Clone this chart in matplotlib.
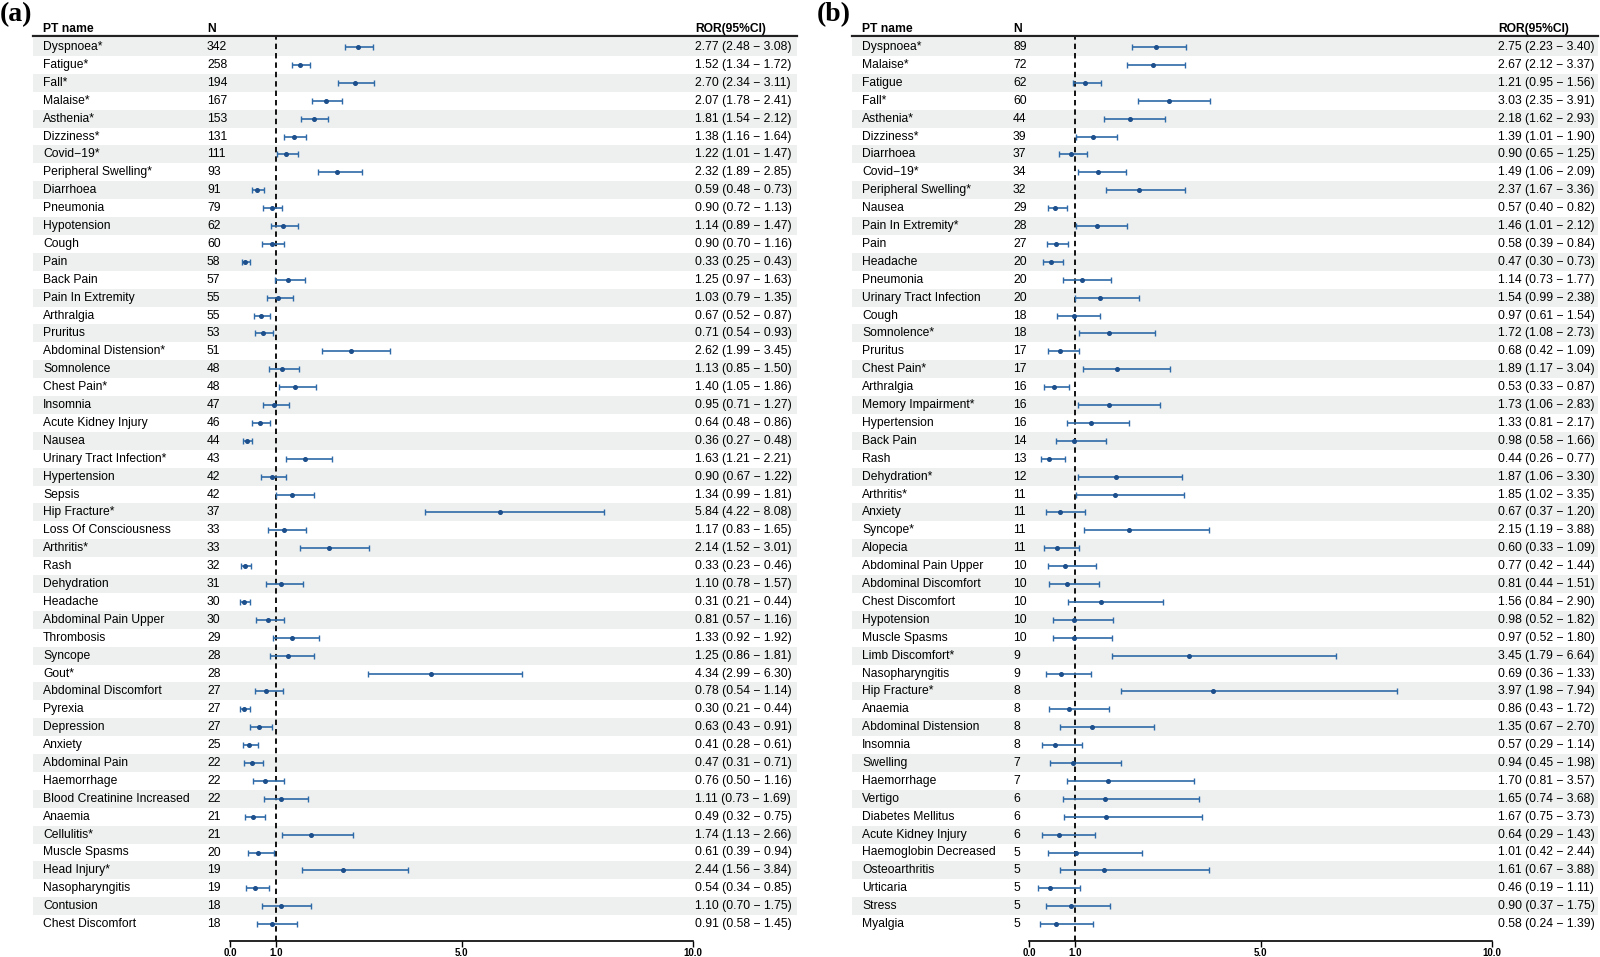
import matplotlib
matplotlib.use("Agg")
import matplotlib.pyplot as plt
import numpy as np

# ---------------- data ----------------
names_a = ["Dyspnoea*", "Fatigue*", "Fall*", "Malaise*", "Asthenia*", "Dizziness*", "Covid\u221219*",
           "Peripheral Swelling*", "Diarrhoea", "Pneumonia", "Hypotension", "Cough", "Pain", "Back Pain",
           "Pain In Extremity", "Arthralgia", "Pruritus", "Abdominal Distension*", "Somnolence", "Chest Pain*",
           "Insomnia", "Acute Kidney Injury", "Nausea", "Urinary Tract Infection*", "Hypertension", "Sepsis",
           "Hip Fracture*", "Loss Of Consciousness", "Arthritis*", "Rash", "Dehydration", "Headache",
           "Abdominal Pain Upper", "Thrombosis", "Syncope", "Gout*", "Abdominal Discomfort", "Pyrexia",
           "Depression", "Anxiety", "Abdominal Pain", "Haemorrhage", "Blood Creatinine Increased", "Anaemia",
           "Cellulitis*", "Muscle Spasms", "Head Injury*", "Nasopharyngitis", "Contusion", "Chest Discomfort"]
n_a = [342, 258, 194, 167, 153, 131, 111, 93, 91, 79, 62, 60, 58, 57, 55, 55, 53, 51, 48, 48, 47, 46, 44,
       43, 42, 42, 37, 33, 33, 32, 31, 30, 30, 29, 28, 28, 27, 27, 27, 25, 22, 22, 22, 21, 21, 20, 19, 19,
       18, 18]
ror_a = [2.77, 1.52, 2.70, 2.07, 1.81, 1.38, 1.22, 2.32, 0.59, 0.90, 1.14, 0.90, 0.33, 1.25, 1.03, 0.67,
         0.71, 2.62, 1.13, 1.40, 0.95, 0.64, 0.36, 1.63, 0.90, 1.34, 5.84, 1.17, 2.14, 0.33, 1.10, 0.31,
         0.81, 1.33, 1.25, 4.34, 0.78, 0.30, 0.63, 0.41, 0.47, 0.76, 1.11, 0.49, 1.74, 0.61, 2.44, 0.54,
         1.10, 0.91]
lo_a = [2.48, 1.34, 2.34, 1.78, 1.54, 1.16, 1.01, 1.89, 0.48, 0.72, 0.89, 0.70, 0.25, 0.97, 0.79, 0.52,
        0.54, 1.99, 0.85, 1.05, 0.71, 0.48, 0.27, 1.21, 0.67, 0.99, 4.22, 0.83, 1.52, 0.23, 0.78, 0.21,
        0.57, 0.92, 0.86, 2.99, 0.54, 0.21, 0.43, 0.28, 0.31, 0.50, 0.73, 0.32, 1.13, 0.39, 1.56, 0.34,
        0.70, 0.58]
hi_a = [3.08, 1.72, 3.11, 2.41, 2.12, 1.64, 1.47, 2.85, 0.73, 1.13, 1.47, 1.16, 0.43, 1.63, 1.35, 0.87,
        0.93, 3.45, 1.50, 1.86, 1.27, 0.86, 0.48, 2.21, 1.22, 1.81, 8.08, 1.65, 3.01, 0.46, 1.57, 0.44,
        1.16, 1.92, 1.81, 6.30, 1.14, 0.44, 0.91, 0.61, 0.71, 1.16, 1.69, 0.75, 2.66, 0.94, 3.84, 0.85,
        1.75, 1.45]

names_b = ["Dyspnoea*", "Malaise*", "Fatigue", "Fall*", "Asthenia*", "Dizziness*", "Diarrhoea", "Covid\u221219*",
           "Peripheral Swelling*", "Nausea", "Pain In Extremity*", "Pain", "Headache", "Pneumonia",
           "Urinary Tract Infection", "Cough", "Somnolence*", "Pruritus", "Chest Pain*", "Arthralgia",
           "Memory Impairment*", "Hypertension", "Back Pain", "Rash", "Dehydration*", "Arthritis*", "Anxiety",
           "Syncope*", "Alopecia", "Abdominal Pain Upper", "Abdominal Discomfort", "Chest Discomfort",
           "Hypotension", "Muscle Spasms", "Limb Discomfort*", "Nasopharyngitis", "Hip Fracture*", "Anaemia",
           "Abdominal Distension", "Insomnia", "Swelling", "Haemorrhage", "Vertigo", "Diabetes Mellitus",
           "Acute Kidney Injury", "Haemoglobin Decreased", "Osteoarthritis", "Urticaria", "Stress", "Myalgia"]
n_b = [89, 72, 62, 60, 44, 39, 37, 34, 32, 29, 28, 27, 20, 20, 20, 18, 18, 17, 17, 16, 16, 16, 14, 13, 12,
       11, 11, 11, 11, 10, 10, 10, 10, 10, 9, 9, 8, 8, 8, 8, 7, 7, 6, 6, 6, 5, 5, 5, 5, 5]
ror_b = [2.75, 2.67, 1.21, 3.03, 2.18, 1.39, 0.90, 1.49, 2.37, 0.57, 1.46, 0.58, 0.47, 1.14, 1.54, 0.97,
         1.72, 0.68, 1.89, 0.53, 1.73, 1.33, 0.98, 0.44, 1.87, 1.85, 0.67, 2.15, 0.60, 0.77, 0.81, 1.56,
         0.98, 0.97, 3.45, 0.69, 3.97, 0.86, 1.35, 0.57, 0.94, 1.70, 1.65, 1.67, 0.64, 1.01, 1.61, 0.46,
         0.90, 0.58]
lo_b = [2.23, 2.12, 0.95, 2.35, 1.62, 1.01, 0.65, 1.06, 1.67, 0.40, 1.01, 0.39, 0.30, 0.73, 0.99, 0.61,
        1.08, 0.42, 1.17, 0.33, 1.06, 0.81, 0.58, 0.26, 1.06, 1.02, 0.37, 1.19, 0.33, 0.42, 0.44, 0.84,
        0.52, 0.52, 1.79, 0.36, 1.98, 0.43, 0.67, 0.29, 0.45, 0.81, 0.74, 0.75, 0.29, 0.42, 0.67, 0.19,
        0.37, 0.24]
hi_b = [3.40, 3.37, 1.56, 3.91, 2.93, 1.90, 1.25, 2.09, 3.36, 0.82, 2.12, 0.84, 0.73, 1.77, 2.38, 1.54,
        2.73, 1.09, 3.04, 0.87, 2.83, 2.17, 1.66, 0.77, 3.30, 3.35, 1.20, 3.88, 1.09, 1.44, 1.51, 2.90,
        1.82, 1.80, 6.64, 1.33, 7.94, 1.72, 2.70, 1.14, 1.98, 3.57, 3.68, 3.73, 1.43, 2.44, 3.88, 1.11,
        1.75, 1.39]

tick_vals = [0, 1, 5, 10]
tick_labels = ["0.0", "1.0", "5.0", "10.0"]
headers = ["PT name", "N", "ROR(95%CI)"]
panel_labels = ["(a)", "(b)"]

# ---------------- layout ----------------
W, H = 1600, 957
fig = plt.figure(figsize=(W / 100, H / 100), dpi=100)
plt.rcParams['font.family'] = ['Liberation Sans', 'DejaVu Sans']

FS = 8.7
row0_px, row_sp = 47.0, 17.9
hdr_line_px, axis_px, hdr_txt_px = 36.0, 941.0, 29.0
shade_col = '#edf0ef'
ci_col = '#2f6aa8'
pt_col = '#1c4f8c'

panels = [
    dict(names=names_a, n=n_a, ror=ror_a, lo=lo_a, hi=hi_a,
         left=33, right=797, name_x=43, n_x=207, x0=230, x10=693, ror_x=695,
         lab=panel_labels[0], lab_x=0),
    dict(names=names_b, n=n_b, ror=ror_b, lo=lo_b, hi=hi_b,
         left=852, right=1598, name_x=862, n_x=1013, x0=1029, x10=1492, ror_x=1498,
         lab=panel_labels[1], lab_x=817),
]

for p in panels:
    nrow = len(p['names'])
    ytop = (hdr_line_px - row0_px) / row_sp
    ybot = (axis_px - row0_px) / row_sp
    ax = fig.add_axes([p['x0'] / W, 1 - axis_px / H, (p['x10'] - p['x0']) / W,
                       (axis_px - hdr_line_px) / H])
    ax.set_xlim(0, 10)
    ax.set_ylim(ybot, ytop)
    ax.patch.set_visible(False)
    for s in ['top', 'right', 'left']:
        ax.spines[s].set_visible(False)
    ax.spines['bottom'].set_linewidth(1.2)
    ax.set_yticks([])
    ax.set_xticks(tick_vals)
    ax.set_xticklabels(tick_labels, fontsize=7, fontweight='bold')
    ax.tick_params(axis='x', length=4, width=1.0, pad=1.0)

    span = p['x10'] - p['x0']
    fx = lambda px: (px - p['x0']) / span  # axes fraction for pixel x

    y = np.arange(nrow)
    for i in range(0, nrow, 2):
        ax.axhspan(i - 0.5, i + 0.5, xmin=fx(p['left']), xmax=fx(p['right']),
                   color=shade_col, lw=0, zorder=0, clip_on=False)
    ax.axhline(ytop, xmin=fx(p['left']), xmax=fx(p['right']), color='#222222',
               lw=1.6, clip_on=False, zorder=3)
    ax.axvline(1, color='black', lw=1.3, ls=(0, (3.0, 2.2)), zorder=2)

    ror = np.array(p['ror'])
    lo = np.array(p['lo'])
    hi = np.array(p['hi'])
    ax.errorbar(ror, y, xerr=[ror - lo, hi - ror], fmt='o', ms=2.6, color=pt_col,
                ecolor=ci_col, elinewidth=1.2, capsize=2.3, capthick=1.0, zorder=4)

    trans = ax.get_yaxis_transform()  # x in axes fraction, y in data
    for i in range(nrow):
        ax.text(fx(p['name_x']), i, p['names'][i], transform=trans, ha='left', va='center',
                fontsize=FS, clip_on=False)
        ax.text(fx(p['n_x']), i, str(p['n'][i]), transform=trans, ha='left', va='center',
                fontsize=FS, clip_on=False)
        ax.text(fx(p['ror_x']), i, f"{p['ror'][i]:.2f} ({p['lo'][i]:.2f} \u2212 {p['hi'][i]:.2f})",
                transform=trans, ha='left', va='center', fontsize=FS, clip_on=False)
    yh = (hdr_txt_px - row0_px) / row_sp
    for hx, ht in zip([p['name_x'], p['n_x'], p['ror_x']], headers):
        ax.text(fx(hx), yh, ht, transform=trans, ha='left', va='center', fontsize=FS,
                fontweight='bold', clip_on=False)

    fig.text(p['lab_x'] / W, 1 - 15 / H, p['lab'], ha='left', va='center', fontsize=20,
             fontweight='bold', family=['Liberation Serif', 'DejaVu Serif'])

fig.savefig("out.png", dpi=100, facecolor='white')
